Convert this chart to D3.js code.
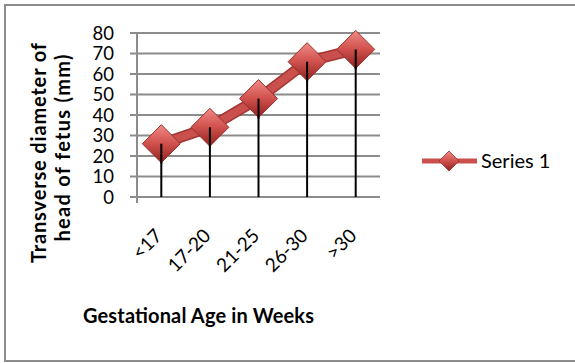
<!DOCTYPE html>
<html><head><meta charset="utf-8">
<script src="https://cdn.jsdelivr.net/npm/d3@7"></script>
<style>body{margin:0;background:#fff;}svg{display:block;font-family:Lato,"Open Sans",sans-serif;}</style>
</head><body><svg id="c" width="575" height="363"></svg>
<script>
const categories = ["<17","17-20","21-25","26-30",">30"];
const values = [26, 34, 48, 66, 72];
const yTicks = [0,10,20,30,40,50,60,70,80];
const seriesName = "Series 1";
const yTitle = ["Transverse diameter of","head of fetus  (mm)"];
const xTitle = "Gestational Age in Weeks";

const svg = d3.select("#c");
const defs = svg.append("defs");
const g1 = defs.append("linearGradient").attr("id","dg").attr("x1","0").attr("y1","0").attr("x2","0").attr("y2","1");
g1.append("stop").attr("offset","0").attr("stop-color","#f08a86");
g1.append("stop").attr("offset","0.5").attr("stop-color","#d0504c");
g1.append("stop").attr("offset","1").attr("stop-color","#8e2320");

// frame
svg.append("rect").attr("x",5).attr("y",5).attr("width",600).attr("height",356)
  .attr("fill","none").attr("stroke","#8c8c8c").attr("stroke-width",2);

const x = d3.scaleBand().domain(categories).range([137,380]);
const y = d3.scaleLinear().domain([0,80]).range([197,33]);

// gridlines
svg.append("g").selectAll("line").data(yTicks).join("line")
  .attr("x1",130).attr("x2",380).attr("y1",d=>y(d)).attr("y2",d=>y(d))
  .attr("stroke","#8c8c8c").attr("stroke-width",2);
// y axis line
svg.append("line").attr("x1",137).attr("x2",137).attr("y1",y(80)).attr("y2",y(0)+6)
  .attr("stroke","#8c8c8c").attr("stroke-width",2);
// y tick labels
svg.append("g").selectAll("text").data(yTicks).join("text")
  .attr("x",114).attr("y",d=>y(d)+6.5).attr("text-anchor","end")
  .attr("font-size",18.5).attr("fill","#000").text(d=>d);

// drop lines
svg.append("g").selectAll("line").data(values).join("line")
  .attr("x1",(d,i)=>x(categories[i])+x.bandwidth()/2)
  .attr("x2",(d,i)=>x(categories[i])+x.bandwidth()/2)
  .attr("y1",d=>y(d)).attr("y2",y(0))
  .attr("stroke","#000").attr("stroke-width",2);

// series line
const line = d3.line().x((d,i)=>x(categories[i])+x.bandwidth()/2).y(d=>y(d));
svg.append("path").datum(values).attr("d",line).attr("fill","none")
  .attr("stroke","#a33431").attr("stroke-width",11).attr("stroke-linejoin","round");
svg.append("path").datum(values).attr("d",line).attr("fill","none")
  .attr("stroke","#c9504c").attr("stroke-width",8).attr("stroke-linejoin","round");

// markers
const diamond = r => `M0,${-r}L${r},0L0,${r}L${-r},0Z`;
const mk = svg.append("g").selectAll("g").data(values).join("g")
  .attr("transform",(d,i)=>`translate(${x(categories[i])+x.bandwidth()/2},${y(d)})`);
mk.append("path").attr("d",diamond(19)).attr("fill","url(#dg)").attr("stroke","#9b2f2c").attr("stroke-width",1);
svg.append("g").selectAll("line").data(values).join("line")
  .attr("x1",(d,i)=>x(categories[i])+x.bandwidth()/2)
  .attr("x2",(d,i)=>x(categories[i])+x.bandwidth()/2)
  .attr("y1",d=>y(d)).attr("y2",d=>y(d)+20)
  .attr("stroke","#000").attr("stroke-width",2);

// x labels
svg.append("g").selectAll("text").data(categories).join("text")
  .attr("transform",d=>`translate(${x(d)+x.bandwidth()/2+2},${237}) rotate(-45)`)
  .attr("text-anchor","end").attr("font-size",19).attr("fill","#000").text(d=>d);

// y title
const yLens = [220, 187];
const yCx = [46, 70];
const yCy = [153, 148];
yTitle.forEach((t,i)=>{
  svg.append("text").attr("transform",`translate(${yCx[i]},${yCy[i]}) rotate(-90)`)
    .attr("text-anchor","middle").attr("font-size",20).attr("font-weight","bold")
    .attr("textLength",yLens[i]).attr("lengthAdjust","spacing").text(t);
});
// x title
svg.append("text").attr("x",198.5).attr("y",323).attr("text-anchor","middle")
  .attr("font-size",20).attr("font-weight","bold")
  .attr("textLength",231).attr("lengthAdjust","spacing").text(xTitle);

// legend
const lg = svg.append("g").attr("transform","translate(0,161)");
lg.append("line").attr("x1",422).attr("x2",477).attr("y1",0).attr("y2",0)
  .attr("stroke","#c9504c").attr("stroke-width",5);
lg.append("path").attr("d",diamond(10)).attr("transform","translate(449,0)").attr("fill","url(#dg)").attr("stroke","#9b2f2c").attr("stroke-width",0.8);
lg.append("text").attr("x",481).attr("y",7).attr("font-size",20).text(seriesName);
</script></body></html>
